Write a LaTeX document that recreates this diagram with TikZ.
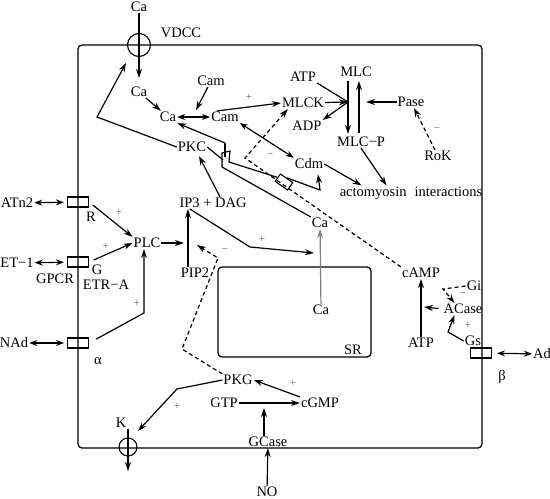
\documentclass[tikz,border=0pt]{standalone}
\usepackage{fontspec}
\setmainfont{Liberation Serif}
\usetikzlibrary{arrows.meta, calc}
\tikzset{
  lbl/.style={inner sep=1pt, font=\fontsize{14.5}{16}\selectfont},
  sgn/.style={inner sep=0pt, font=\fontsize{11}{13}\selectfont, text=black!65},
  rbox/.style={draw, minimum width=21pt, minimum height=10pt, inner sep=0pt, line width=1.1pt},
  chan/.style={draw, circle, inner sep=0pt, line width=1.1pt},
  arrow/.style={-{Stealth[length=9pt,width=6pt]}, line width=1.2pt},
  dasharrow/.style={arrow, dash pattern=on 4pt off 3pt},
  grayarrow/.style={arrow, color=black!50},
  dblarrow/.style={{Stealth[length=8pt,width=6pt]}-{Stealth[length=8pt,width=6pt]}, line width=1.2pt},
  line/.style={line width=1.2pt}
}
\begin{document}
\begin{tikzpicture}[x=1pt, y=-1pt]
  \useasboundingbox (0,0) rectangle (550,499);
  % cell membrane and SR
  \draw[line, line width=1.3pt, rounded corners=4pt] (78,45) rectangle (482,448);
  \node[draw, line width=1.3pt, rounded corners=4pt, minimum width=153pt,
    minimum height=90pt] (sr) at (294.5,312) {};
  % channels and receptors
  \node[chan, minimum size=23pt] (vdcc) at (139,45) {};
  \node[chan, minimum size=18pt] (kch) at (128,447) {};
  \node[rbox] (recR) at (78,202) {};
  \node[rbox] (recG) at (78,262) {};
  \node[rbox] (recA) at (78,343) {};
  \node[rbox] (recB) at (481,353) {};
  % labels
  \node[lbl] (caOut) at (139,7) {Ca};
  \node[lbl] (vdccL) at (181,33) {VDCC};
  \node[lbl] (caTop) at (139,92) {Ca};
  \node[lbl] (caCyt) at (168,117) {Ca};
  \node[lbl] (camTop) at (211,81) {Cam};
  \node[lbl] (cam) at (225,117) {Cam};
  \node[lbl] (mlck) at (303,103) {MLCK};
  \node[lbl] (atp1) at (303,77) {ATP};
  \node[lbl] (adp) at (307,126) {ADP};
  \node[lbl] (mlc) at (356,72) {MLC};
  \node[lbl] (mlcp) at (361,142) {MLC−P};
  \node[lbl] (pase) at (411,102) {Pase};
  \node[lbl] (rok) at (438,156) {RoK};
  \node[lbl] (cdm) at (309,164) {Cdm};
  \node[lbl] (acto) at (411,193) {actomyosin\hspace{8pt}interactions};
  \node[lbl] (pkc) at (192,147) {PKC};
  \node[lbl] (ip3) at (213,203) {IP3 + DAG};
  \node[lbl] (caSR) at (320,223) {Ca};
  \node[lbl] (pip2) at (195,273) {PIP2};
  \node[lbl] (plc) at (147,243) {PLC};
  \node[lbl] (caIn) at (321,310) {Ca};
  \node[lbl] (srL) at (353,350) {SR};
  \node[lbl] (camp) at (421,273) {cAMP};
  \node[lbl] (atp2) at (421,343) {ATP};
  \node[lbl] (acase) at (463,309) {ACase};
  \node[lbl] (gi) at (474,286) {Gi};
  \node[lbl] (gs) at (473,341) {Gs};
  \node[lbl] (ad) at (542,354) {Ad};
  \node[lbl] (betaL) at (502,377) {β};
  \node[lbl] (pkg) at (238,380) {PKG};
  \node[lbl] (gtp) at (224,403) {GTP};
  \node[lbl] (cgmp) at (320,403) {cGMP};
  \node[lbl] (gcase) at (268,442) {GCase};
  \node[lbl] (no) at (267,492) {NO};
  \node[lbl] (kL) at (121,423) {K};
  \node[lbl] (atn2) at (17,203) {ATn2};
  \node[lbl] (et1) at (17,263) {ET−1};
  \node[lbl] (nad) at (14,343) {NAd};
  \node[lbl] (gpcr) at (55,279) {GPCR};
  \node[lbl] (rL) at (91,217) {R};
  \node[lbl] (gL) at (97,270) {G};
  \node[lbl] (etra) at (106,285) {ETR−A};
  \node[lbl] (alphaL) at (98,361) {α};
  % junction points
  \coordinate (camJ) at (196,110);
  \coordinate (rxn) at (348,102);
  \coordinate (mlcUp) at (359,102);
  \coordinate (pkcBend) at (97,117);
  \coordinate (zTop) at (225,143);
  \coordinate (zLow) at (223,160);
  \coordinate (cdJ) at (320,190);
  \coordinate (dJ) at (245,158);
  \coordinate (ipBend) at (250,247);
  \coordinate (caRel) at (314,253);
  \coordinate (plcJ) at (184,243);
  \coordinate (pgA) at (182,349);
  \coordinate (pgB) at (218,258);
  \coordinate (pgC) at (197,245);
  \coordinate (aBend) at (144,313);
  \coordinate (acJ) at (424,307);
  \coordinate (giJ) at (443,289);
  \coordinate (gsJ) at (448,332);
  \coordinate (gcJ) at (264,403);
  \coordinate (kBend) at (177,389);
  \coordinate (kOut) at (128,471);
  % Ca entry and calmodulin
  \draw[arrow, shorten >=8pt] (caOut) -- (caTop);
  \draw[arrow] (caTop) -- (caCyt);
  \draw[dblarrow] (caCyt) -- (cam);
  \draw[arrow] (camTop) -- (camJ);
  \draw[arrow] ([shift={(-8,0)}]cam.north) -- (mlck.west);
  \node[sgn] at (249,97) {+};
  \draw[dblarrow] (cam.south east) -- (cdm.north west);
  \node[sgn] at (270,156) {−};
  % myosin light chain
  \draw[line] (atp1.south east) -- (rxn);
  \draw[arrow] (rxn) -- (adp.north east);
  \draw[arrow] (mlck) -- (rxn);
  \draw[arrow, shorten <=3pt, shorten >=2pt] (mlc.south -| rxn) -- (mlcp.north -| rxn);
  \draw[arrow, shorten <=3pt, shorten >=3pt] (mlcp.north -| mlcUp) -- (mlc.south -| mlcUp);
  \draw[arrow] (pase) -- ([shift={(7,0)}]mlcUp);
  \draw[dasharrow] (rok) -- (pase);
  \node[sgn] at (437,130) {−};
  \draw[arrow] (cdm.east) -- ([shift={(23,0)}]acto.north west);
  \draw[arrow] (mlcp.south) -- ([shift={(48,0)}]acto.north west);
  % PKC and the strip
  \draw[arrow] (pkc.west) -- (pkcBend) -- ([shift={(-13,18)}]vdcc.center);
  \draw[arrow] (zTop) -- (caCyt.south east);
  \draw[line] (pkc.east) -- (zLow);
  \draw[line] (zTop) -- (225,157);
  \node[draw, line width=1.1pt, minimum width=15pt, minimum height=9pt,
    inner sep=0pt, rotate=-35] (gate) at (284,182) {};
  \draw[line] (222,167) -- (222,153) -- (230,151) -- (229,162) -- (gate.west);
  \draw[line] (222,167) -- (caSR.north west);
  \draw[arrow] (gate.north) -- (cdJ) -- ([shift={(9,4)}]cdm.south);
  \draw[dasharrow] (camp.north west) -- (dJ) -- ([shift={(7,0)}]mlck.south west);
  % IP3 / DAG
  \draw[arrow] ([shift={(7,0)}]ip3.north) -- ([shift={(7,3)}]pkc.south);
  \draw[arrow] ([shift={(-23,0)}]ip3.south) -- (ipBend) -- (caRel);
  \node[sgn] at (262,239) {+};
  \draw[grayarrow] (caIn) -- (caSR);
  \draw[arrow] ([shift={(-7,0)}]pip2.north) -- ([shift={(-25,0)}]ip3.south);
  \draw[arrow] (plc) -- (plcJ);
  \draw[dasharrow] (pkg.north west) -- (pgA) -- (pgB) -- (pgC);
  \node[sgn] at (225,251) {−};
  % receptors on the left
  \draw[dblarrow, shorten >=3pt] (atn2) -- (recR);
  \draw[dblarrow, shorten >=3pt] (et1) -- (recG);
  \draw[dblarrow, shorten >=3pt] (nad) -- (recA);
  \draw[arrow, shorten <=5pt] (recR.east) -- (plc.north west);
  \node[sgn] at (119,212) {+};
  \draw[arrow, shorten <=5pt] (recG.east) -- (plc.west);
  \node[sgn] at (106,246) {+};
  \draw[arrow, shorten <=8pt] (recA.east) -- (aBend) -- (aBend |- plc.south);
  \node[sgn] at (137,303) {+};
  % cAMP branch
  \draw[arrow] (atp2) -- (camp);
  \draw[arrow, shorten <=4pt] (acase.west) -- (acJ);
  \draw[dasharrow] (gi.west) -- (giJ) -- ([shift={(12,0)}]acase.north west);
  \node[sgn] at (463,295) {−};
  \draw[arrow] (gs.west) -- (gsJ) -- ([shift={(12,0)}]acase.south west);
  \node[sgn] at (468,325) {+};
  \draw[dblarrow, shorten <=5pt] (recB) -- (ad);
  % cGMP branch
  \draw[arrow] (cgmp.north west) -- (pkg.east);
  \node[sgn] at (293,383) {+};
  \draw[arrow] (gtp) -- (cgmp);
  \draw[arrow, shorten >=5pt] (gcase.north -| gcJ) -- (gcJ);
  \draw[arrow] (no) -- (gcase);
  \draw[arrow] (pkg.west) -- (kBend) -- ([shift={(10,-16)}]kch.center);
  \node[sgn] at (177,406) {+};
  \draw[arrow] (kch.center |- kL.south) -- (kOut);
\end{tikzpicture}
\end{document}
